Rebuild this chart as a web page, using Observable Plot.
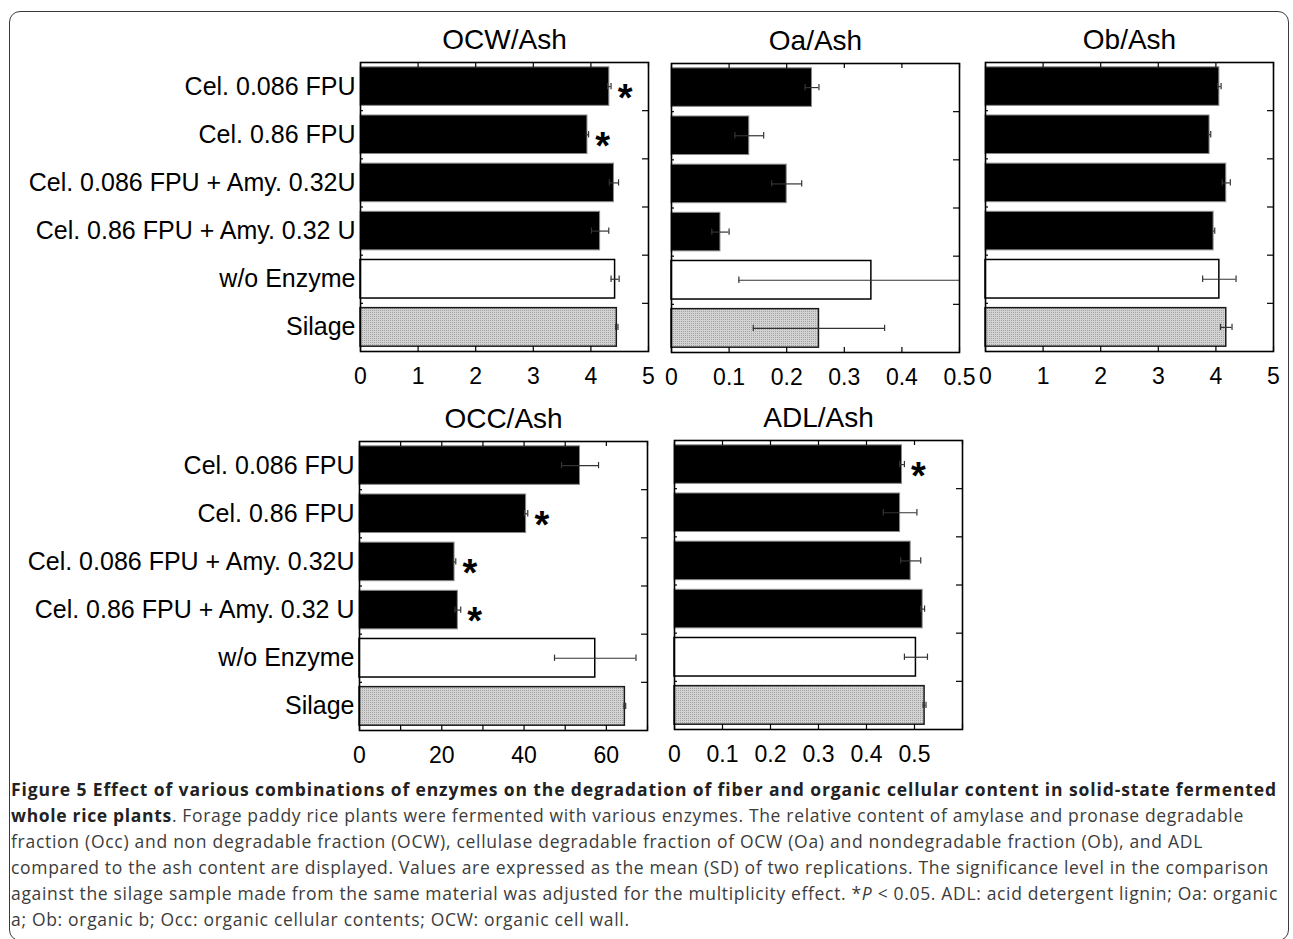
<!DOCTYPE html>
<html>
<head>
<meta charset="utf-8">
<script src="https://cdn.jsdelivr.net/npm/d3@7"></script>
<script src="https://cdn.jsdelivr.net/npm/@observablehq/plot@0.6"></script>
<style>
  html, body { margin: 0; padding: 0; background: #fff; }
  #page { position: relative; width: 1293px; height: 939px; overflow: hidden; font-family: "Liberation Sans", Arial, sans-serif; }
  #border { position: absolute; left: 9px; top: 11px; width: 1280px; height: 930px; border: 1.6px solid #3a3a3a; border-radius: 11px; box-sizing: border-box; }
  .panel { position: absolute; }
  .cap { position: absolute; left: 11px; white-space: nowrap; font-family: "Open Sans", sans-serif; font-size: 17.5px; color: #3c3c3c; line-height: 20px; }
  .cap b { color: #222; font-weight: 700; }
</style>
</head>
<body>
<svg width="0" height="0" style="position:absolute">
  <defs>
    <pattern id="dots" width="2" height="2" patternUnits="userSpaceOnUse">
      <rect width="2" height="2" fill="#d2d2d2"></rect>
      <rect width="1" height="1" fill="#a4a4a4"></rect>
    </pattern>
  </defs>
</svg>
<div id="page">
  <div id="border"></div>
</div>
<script>
// ---------- data ----------
const categories = ["Cel. 0.086 FPU", "Cel. 0.86 FPU", "Cel. 0.086 FPU + Amy. 0.32U", "Cel. 0.86 FPU + Amy. 0.32 U", "w/o Enzyme", "Silage"];
const kinds = ["enzyme", "enzyme", "enzyme", "enzyme", "none", "silage"];

const ocwMean = [4.32, 3.94, 4.40, 4.16, 4.42, 4.45];
const ocwSD   = [0.03, 0.02, 0.08, 0.15, 0.07, 0.02];
const ocwSig  = [true, true, false, false, false, false];

const oaMean = [0.244, 0.135, 0.200, 0.085, 0.347, 0.256];
const oaSD   = [0.012, 0.025, 0.026, 0.015, 0.230, 0.114];
const oaSig  = [false, false, false, false, false, false];

const obMean = [4.06, 3.89, 4.18, 3.96, 4.06, 4.18];
const obSD   = [0.03, 0.02, 0.07, 0.02, 0.29, 0.10];
const obSig  = [false, false, false, false, false, false];

const occMean = [53.6, 40.5, 23.1, 23.9, 57.3, 64.5];
const occSD   = [4.5, 0.4, 0.3, 0.7, 9.9, 0.2];
const occSig  = [false, true, true, true, false, false];

const adlMean = [0.474, 0.470, 0.492, 0.517, 0.503, 0.521];
const adlSD   = [0.005, 0.035, 0.021, 0.004, 0.024, 0.003];
const adlSig  = [true, false, false, false, false, false];

const ticksOCW = [0, 1, 2, 3, 4, 5];
const labelsOCW = [0, 1, 2, 3, 4, 5];
const ticksOa = [0, 0.1, 0.2, 0.3, 0.4, 0.5];
const labelsOa = [0, 0.1, 0.2, 0.3, 0.4, 0.5];
const ticksOCC = [0, 10, 20, 30, 40, 50, 60, 70];
const labelsOCC = [0, 20, 40, 60];
const ticksADL = [0, 0.1, 0.2, 0.3, 0.4, 0.5, 0.6];
const labelsADL = [0, 0.1, 0.2, 0.3, 0.4, 0.5];

// ---------- drawing ----------
const FRAME_W = 288, FRAME_H = 289;
const font = "Liberation Sans, Arial, sans-serif";

function panel({title, mean, sd, sig, domain, ticks, labels, showY, left, top, marginLeft, marginTop}) {
  const rows = categories.map((c, i) => ({cat: c, i, kind: kinds[i], v: mean[i], e: sd[i], sig: sig[i]}));
  const marginRight = 12, marginBottom = 45;
  const width = marginLeft + FRAME_W + marginRight;
  const height = marginTop + FRAME_H + marginBottom;
  const marks = [
    Plot.rectX(rows.filter(d => d.kind === "enzyme"), {x1: 0, x2: "v", y1: d => d.i + 0.1, y2: d => d.i + 0.9, fill: "black", stroke: "#8a8a8a", strokeWidth: 1}),
    Plot.rectX(rows.filter(d => d.kind === "none"), {x1: 0, x2: "v", y1: d => d.i + 0.1, y2: d => d.i + 0.9, fill: "white", stroke: "black", strokeWidth: 1.5}),
    Plot.rectX(rows.filter(d => d.kind === "silage"), {x1: 0, x2: "v", y1: d => d.i + 0.1, y2: d => d.i + 0.9, fill: "url(#dots)", stroke: "#1a1a1a", strokeWidth: 1.5}),
    // error bars
    Plot.ruleY(rows, {y: d => d.i + 0.5, x1: d => d.v - d.e, x2: d => d.v + d.e, stroke: "#333", strokeWidth: 1.2, clip: true}),
    Plot.ruleX(rows, {x: d => d.v - d.e, y1: d => d.i + 0.435, y2: d => d.i + 0.565, stroke: "#333", strokeWidth: 1.2, clip: true}),
    Plot.ruleX(rows, {x: d => d.v + d.e, y1: d => d.i + 0.435, y2: d => d.i + 0.565, stroke: "#333", strokeWidth: 1.2, clip: true}),
    // significance stars
    Plot.text(rows.filter(d => d.sig), {x: d => d.v + d.e, y: d => d.i + 0.5, text: () => "*", dx: 14, dy: 12, fontSize: 38, fontWeight: "bold", fill: "black"}),
    // inward x ticks (bottom and top)
    Plot.tickX(ticks, {x: d => d, insetTop: FRAME_H - 5, stroke: "black", strokeWidth: 1.2}),
    Plot.tickX(ticks, {x: d => d, insetBottom: FRAME_H - 5, stroke: "black", strokeWidth: 1.2}),
    // inward y ticks at category boundaries
    Plot.tickY(d3.range(1, categories.length), {y: d => d, insetLeft: FRAME_W - 6, stroke: "black", strokeWidth: 1.2}),
    Plot.tickY(d3.range(1, categories.length), {y: d => d, insetRight: FRAME_W - 3, stroke: "black", strokeWidth: 1.2}),
    Plot.frame({stroke: "black", strokeWidth: 1.6}),
    // x tick labels
    Plot.text(labels, {x: d => d, frameAnchor: "bottom", lineAnchor: "middle", dy: 25, text: d => String(d), fontSize: 23, fill: "black"}),
    // title
    Plot.text([title], {frameAnchor: "top", lineAnchor: "middle", dy: -22, text: d => d, fontSize: 28, fill: "black"})
  ];
  if (showY) {
    marks.push(Plot.text(rows, {y: d => d.i + 0.5, frameAnchor: "left", textAnchor: "end", lineAnchor: "middle", dx: -5, text: "cat", fontSize: 25, fill: "black"}));
  }
  const chart = Plot.plot({
    width, height, marginLeft, marginRight, marginTop, marginBottom,
    style: {fontFamily: font, background: "transparent", overflow: "visible"},
    x: {domain, axis: null},
    y: {domain: [0, categories.length], reverse: true, axis: null},
    marks
  });
  chart.classList.add("panel");
  chart.style.left = left + "px";
  chart.style.top = top + "px";
  chart.style.position = "absolute";
  document.getElementById("page").appendChild(chart);
}

panel({title: "OCW/Ash", mean: ocwMean, sd: ocwSD, sig: ocwSig, domain: [0, 5], ticks: ticksOCW, labels: labelsOCW, showY: true, left: 0, top: 0, marginLeft: 360, marginTop: 62});
panel({title: "Oa/Ash", mean: oaMean, sd: oaSD, sig: oaSig, domain: [0, 0.5], ticks: ticksOa, labels: labelsOa, showY: false, left: 659, top: 1, marginLeft: 12, marginTop: 62});
panel({title: "Ob/Ash", mean: obMean, sd: obSD, sig: obSig, domain: [0, 5], ticks: ticksOCW, labels: labelsOCW, showY: false, left: 973, top: 0, marginLeft: 12, marginTop: 62});
panel({title: "OCC/Ash", mean: occMean, sd: occSD, sig: occSig, domain: [0, 70], ticks: ticksOCC, labels: labelsOCC, showY: true, left: 0, top: 380, marginLeft: 359, marginTop: 61});
panel({title: "ADL/Ash", mean: adlMean, sd: adlSD, sig: adlSig, domain: [0, 0.6], ticks: ticksADL, labels: labelsADL, showY: false, left: 662, top: 380, marginLeft: 12, marginTop: 60});

// ---------- caption ----------
const captionLines = [
  "<b>Figure 5 Effect of various combinations of enzymes on the degradation of fiber and organic cellular content in solid-state fermented</b>",
  "<b>whole rice plants</b>. Forage paddy rice plants were fermented with various enzymes. The relative content of amylase and pronase degradable",
  "fraction (Occ) and non degradable fraction (OCW), cellulase degradable fraction of OCW (Oa) and nondegradable fraction (Ob), and ADL",
  "compared to the ash content are displayed. Values are expressed as the mean (SD) of two replications. The significance level in the comparison",
  "against the silage sample made from the same material was adjusted for the multiplicity effect. *<i>P</i> &lt; 0.05. ADL: acid detergent lignin; Oa: organic",
  "a; Ob: organic b; Occ: organic cellular contents; OCW: organic cell wall."
];
// right ends of the first five caption lines in the reference (line breaks are fixed)
const captionRight = [1277, 1244, 1203, 1269, 1278];
const capDivs = captionLines.map((html, k) => {
  const div = document.createElement("div");
  div.className = "cap";
  div.innerHTML = html;
  div.style.top = (779 + k * 26) + "px";
  document.getElementById("page").appendChild(div);
  return div;
});
const spacings = captionRight.map((r, k) => {
  const d = capDivs[k];
  return ((r - 11) - d.getBoundingClientRect().width) / d.textContent.length;
});
const regularSpacing = d3.mean(spacings.slice(2));
capDivs.forEach((d, k) => {
  const s = k < spacings.length ? spacings[k] : regularSpacing;
  d.style.letterSpacing = s.toFixed(3) + "px";
});
</script>
</body>
</html>
